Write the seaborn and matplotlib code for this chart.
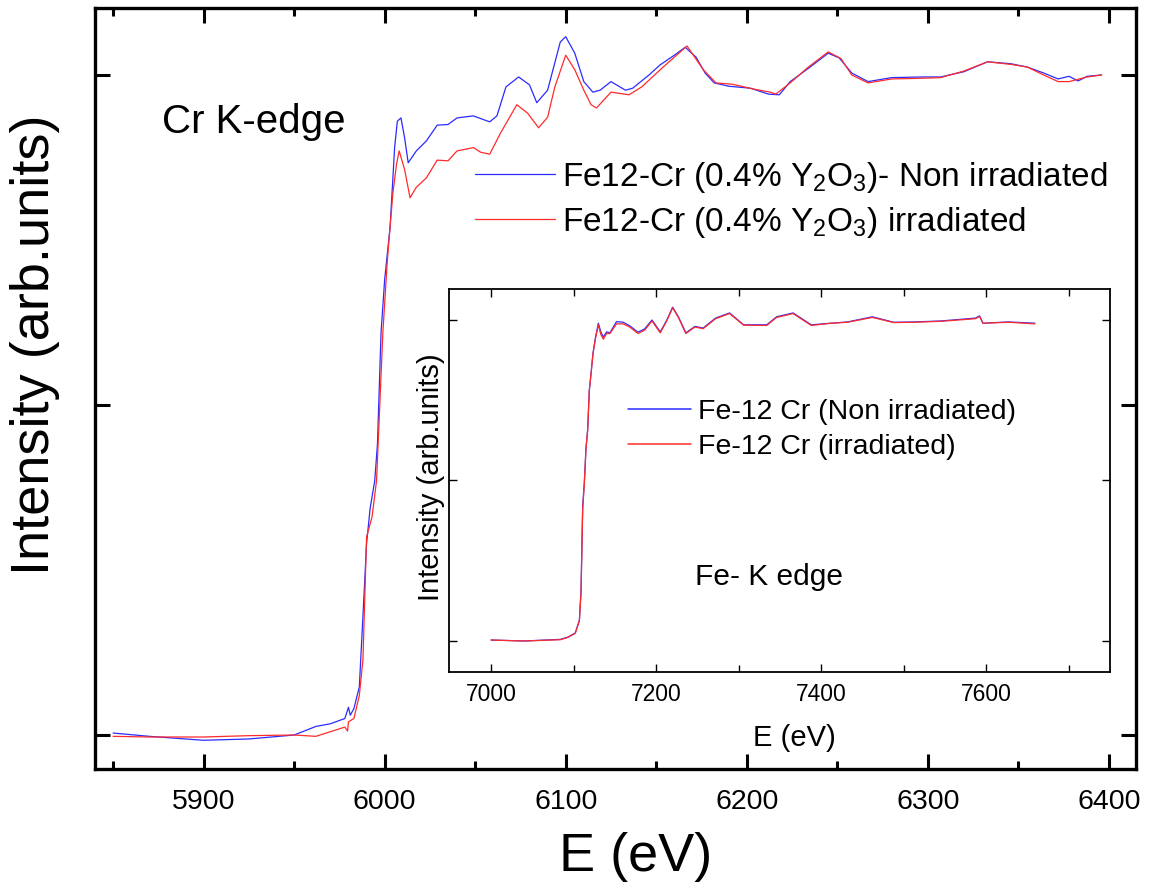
import matplotlib
matplotlib.use("Agg")
import matplotlib.pyplot as plt
import seaborn as sns
import pandas as pd
from matplotlib.ticker import MultipleLocator, FixedLocator, NullFormatter

# ---------------- data: Cr K-edge (main) ----------------
cr_non_E = [5850, 5870, 5900, 5925, 5950, 5962, 5970, 5978, 5980, 5981, 5983, 5986, 5988, 5990,
            5992, 5994.5, 5996, 5998, 6000, 6003, 6005.5, 6007, 6009, 6011, 6013, 6017.5, 6023,
            6029, 6035, 6040, 6049, 6055, 6058, 6062, 6067, 6074, 6080, 6084, 6090, 6097, 6100,
            6105, 6110, 6115, 6119, 6125, 6133, 6137, 6146, 6152, 6160, 6166, 6172, 6177, 6182,
            6190, 6202, 6212, 6218, 6224, 6234, 6245, 6251, 6258, 6267, 6280, 6296, 6307, 6320,
            6333, 6346, 6355, 6364, 6372, 6378, 6383, 6388, 6396]
cr_non_I = [0.003, -0.002, -0.008, -0.006, 0.0, 0.013, 0.017, 0.025, 0.042, 0.030, 0.040, 0.073,
            0.18, 0.29, 0.344, 0.385, 0.44, 0.61, 0.69, 0.77, 0.89, 0.93, 0.935, 0.905, 0.867,
            0.885, 0.90, 0.924, 0.925, 0.935, 0.938, 0.932, 0.929, 0.938, 0.982, 0.997, 0.985,
            0.958, 0.977, 1.05, 1.058, 1.033, 0.99, 0.974, 0.977, 0.99, 0.977, 0.98, 1.0, 1.015,
            1.03, 1.042, 1.027, 1.003, 0.988, 0.983, 0.98, 0.971, 0.97, 0.99, 1.01, 1.033, 1.026,
            1.003, 0.99, 0.996, 0.997, 0.997, 1.005, 1.02, 1.017, 1.012, 1.003, 0.994, 0.998,
            0.991, 0.998, 1.0]

cr_irr_E = [5850, 5870, 5900, 5925, 5950, 5962, 5970, 5978, 5979.5, 5980, 5983, 5986, 5988, 5990,
            5993, 5995.5, 5997, 5999, 6001.5, 6004.5, 6006.5, 6008, 6011, 6014, 6017.5, 6023,
            6029, 6035, 6040, 6049, 6053, 6058, 6064, 6073, 6079, 6085, 6090, 6094, 6100, 6105,
            6110, 6114, 6117, 6121, 6125, 6135, 6142, 6153, 6167, 6176, 6183, 6192, 6205, 6213,
            6216, 6224, 6234, 6245, 6252, 6258, 6267, 6280, 6296, 6307, 6320, 6333, 6346, 6355,
            6364, 6372, 6378, 6388, 6396]
cr_irr_I = [-0.002, -0.003, -0.003, -0.001, 0.0, -0.002, 0.005, 0.012, 0.006, 0.02, 0.025, 0.06,
            0.114, 0.30, 0.33, 0.385, 0.48, 0.61, 0.72, 0.82, 0.864, 0.885, 0.857, 0.814, 0.83,
            0.844, 0.871, 0.87, 0.885, 0.89, 0.883, 0.88, 0.912, 0.955, 0.942, 0.92, 0.936, 0.982,
            1.03, 1.008, 0.977, 0.955, 0.95, 0.962, 0.974, 0.97, 0.982, 1.01, 1.044, 1.008, 0.988,
            0.986, 0.978, 0.974, 0.971, 0.988, 1.012, 1.035, 1.025, 1.0, 0.988, 0.994, 0.995,
            0.996, 1.006, 1.02, 1.016, 1.012, 1.0, 0.99, 0.99, 0.997, 1.0]

# ---------------- data: Fe K-edge (inset) ----------------
fe_E = [7000, 7040, 7084, 7093, 7102, 7107, 7109, 7111, 7113, 7115, 7117, 7119, 7121, 7123.5,
        7126.6, 7130, 7133, 7136, 7140, 7144, 7152, 7160, 7168, 7178, 7186, 7195, 7205, 7213,
        7220, 7227, 7236, 7247, 7257, 7272, 7289, 7306, 7334, 7346, 7366, 7388, 7412, 7432,
        7462, 7488, 7513, 7545, 7587, 7592, 7596, 7627, 7659]
fe_non_I = [0.003, 0.0, 0.005, 0.012, 0.025, 0.065, 0.16, 0.42, 0.495, 0.60, 0.657, 0.78, 0.83,
            0.897, 0.947, 0.99, 0.963, 0.947, 0.963, 0.96, 0.995, 0.993, 0.982, 0.962, 0.972,
            1.0, 0.963, 1.0, 1.04, 1.01, 0.96, 0.98, 0.975, 1.006, 1.022, 0.985, 0.985, 1.01,
            1.022, 0.985, 0.99, 0.994, 1.01, 0.993, 0.994, 0.997, 1.006, 1.013, 0.99, 0.994, 0.99]
fe_irr_I = [0.003, 0.0, 0.004, 0.011, 0.024, 0.062, 0.15, 0.41, 0.49, 0.60, 0.655, 0.78, 0.83,
            0.895, 0.944, 0.985, 0.955, 0.94, 0.958, 0.958, 0.988, 0.988, 0.978, 0.958, 0.968,
            0.997, 0.96, 0.998, 1.038, 1.008, 0.958, 0.978, 0.973, 1.004, 1.02, 0.984, 0.983,
            1.008, 1.02, 0.983, 0.99, 0.993, 1.008, 0.992, 0.993, 0.996, 1.004, 1.011, 0.99,
            0.993, 0.988]

main_labels = ["Fe12-Cr (0.4% Y$_2$O$_3$)- Non irradiated", "Fe12-Cr (0.4% Y$_2$O$_3$) irradiated"]
inset_labels = ["Fe-12 Cr (Non irradiated)", "Fe-12 Cr (irradiated)"]
colors = ["#2b2bff", "#ff2b2b"]

cr_df = pd.concat([
    pd.DataFrame({"E": cr_non_E, "I": cr_non_I, "s": main_labels[0]}),
    pd.DataFrame({"E": cr_irr_E, "I": cr_irr_I, "s": main_labels[1]}),
], ignore_index=True)
fe_df = pd.concat([
    pd.DataFrame({"E": fe_E, "I": fe_non_I, "s": inset_labels[0]}),
    pd.DataFrame({"E": fe_E, "I": fe_irr_I, "s": inset_labels[1]}),
], ignore_index=True)

sns.set_style("ticks")
plt.rcParams["font.family"] = ["Liberation Sans", "DejaVu Sans"]
plt.rcParams["mathtext.default"] = "regular"
plt.rcParams["text.color"] = "black"
plt.rcParams["axes.labelcolor"] = "black"
plt.rcParams["xtick.color"] = "black"
plt.rcParams["ytick.color"] = "black"
plt.rcParams["axes.edgecolor"] = "black"

W, H = 1158, 896
fig = plt.figure(figsize=(W / 100, H / 100), dpi=100)

def frac(l, t, r, b):
    return [l / W, 1 - b / H, (r - l) / W, (b - t) / H]

ax = fig.add_axes(frac(95, 8, 1136, 769))
sns.lineplot(data=cr_df, x="E", y="I", hue="s", palette=colors, sort=False,
             estimator=None, lw=0.9, ax=ax, legend=False)
ax.set_xlim(5840, 6415)
ax.set_ylim(-0.0515, 1.1015)
ax.xaxis.set_major_locator(MultipleLocator(100))
ax.xaxis.set_minor_locator(MultipleLocator(50))
ax.yaxis.set_major_locator(FixedLocator([0, 0.5, 1.0]))
ax.yaxis.set_major_formatter(NullFormatter())
ax.tick_params(which="both", direction="in", top=True, right=True, width=2.2,
               color="black", labelcolor="black")
ax.tick_params(which="major", length=11)
ax.tick_params(which="minor", length=6)
ax.tick_params(axis="x", labelsize=20.5, pad=14.5)
for s in ax.spines.values():
    s.set_linewidth(2.4)
    s.set_color("black")
ax.set_xlabel("E (eV)", fontsize=39, color="black")
ax.set_ylabel("Intensity (arb.units)", fontsize=39, color="black")
ax.xaxis.set_label_coords(0.519, -0.083)
ax.yaxis.set_label_coords(-0.034, 0.557)
ax.text(162 / W, 1 - 122 / H, "Cr K-edge", transform=fig.transFigure, fontsize=29,
        ha="left", va="center", color="black")

h1 = [plt.Line2D([], [], color=c, lw=0.9) for c in colors]
fig.legend(h1, main_labels, loc="center left", bbox_to_anchor=(475 / W, 1 - 200 / H),
           frameon=False, fontsize=24, handlelength=2.4, handletextpad=0.2,
           labelspacing=0.3, borderpad=0, borderaxespad=0, labelcolor="black")

# ---------------- inset ----------------
ins = fig.add_axes(frac(449, 289, 1110, 672))
sns.lineplot(data=fe_df, x="E", y="I", hue="s", palette=colors, sort=False,
             estimator=None, lw=0.9, ax=ins, legend=False)
ins.set_xlim(6949, 7750)
ins.set_ylim(-0.0966, 1.0966)
ins.xaxis.set_major_locator(MultipleLocator(200))
ins.xaxis.set_minor_locator(MultipleLocator(100))
ins.yaxis.set_major_locator(FixedLocator([0, 0.5, 1.0]))
ins.yaxis.set_major_formatter(NullFormatter())
ins.tick_params(which="both", direction="in", top=True, right=True, width=1.0,
                color="black", labelcolor="black")
ins.tick_params(which="major", length=6)
ins.tick_params(which="minor", length=5)
ins.tick_params(axis="x", labelsize=16.5, pad=8)
for s in ins.spines.values():
    s.set_linewidth(1.3)
    s.set_color("black")
ins.set_xlabel("E (eV)", fontsize=21, color="black")
ins.set_ylabel("Intensity (arb.units)", fontsize=21, color="black")
ins.xaxis.set_label_coords(0.523, -0.136)
ins.yaxis.set_label_coords(-0.006, 0.509)
fig.text(695 / W, 1 - 577 / H, "Fe- K edge", fontsize=21.5, ha="left", va="center",
         color="black")

h2 = [plt.Line2D([], [], color=c, lw=1.1) for c in colors]
fig.legend(h2, inset_labels, loc="center left", bbox_to_anchor=(628 / W, 1 - 429.5 / H),
           frameon=False, fontsize=20.5, handlelength=2.2, handletextpad=0.25,
           labelspacing=0.3, borderpad=0, borderaxespad=0, labelcolor="black")

fig.savefig("out.png", dpi=100)
